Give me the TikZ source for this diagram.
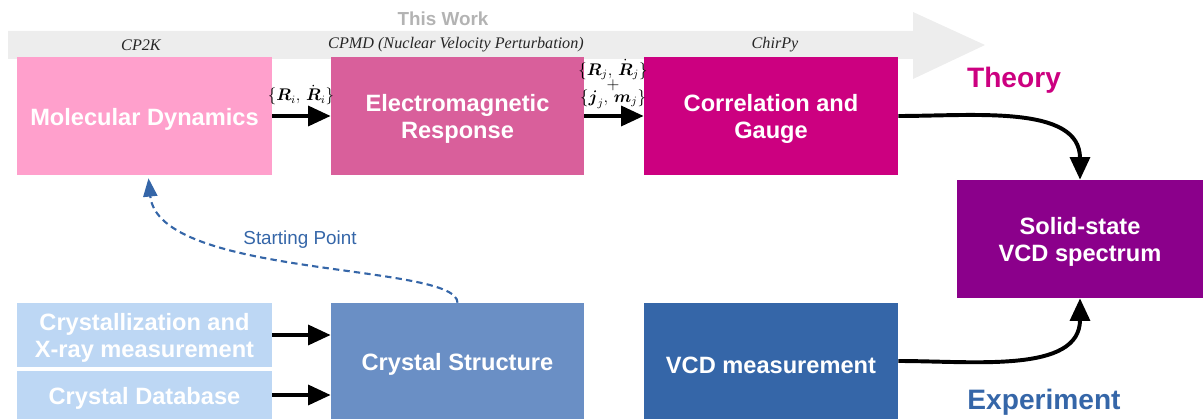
\documentclass[tikz,border=0pt]{standalone}
\usepackage{amsmath,amssymb}
\usepackage{fontspec}
\setsansfont{Liberation Sans}
\newfontfamily\toolfont{Liberation Serif}
\usepackage{tikz}
\usetikzlibrary{arrows.meta, positioning, calc}
\definecolor{MDPink}{HTML}{FFA0CC}
\definecolor{EMPink}{HTML}{D95F9B}
\definecolor{CGMagenta}{HTML}{CC0080}
\definecolor{SolidPurple}{HTML}{8B008B}
\definecolor{LightBlue}{HTML}{BDD7F4}
\definecolor{MidBlue}{HTML}{6A8FC5}
\definecolor{DeepBlue}{HTML}{3566A8}
\definecolor{BandGrey}{HTML}{EDEDED}
\definecolor{WorkGrey}{HTML}{B3B3B3}
\tikzset{
  % Box styles
  stagebox/.style={rectangle, inner sep=0pt, text=white, minimum width=6.375cm, minimum height=2.95cm, font=\sffamily\bfseries\fontsize{16.8}{19.5}\selectfont, align=center, execute at begin node={\rule{0pt}{17.5pt}}},
  twoline/.style={execute at begin node={\rule{0pt}{36pt}}},
  toolnote/.style={font=\toolfont\itshape\fontsize{11.5}{13}\selectfont, text=black!85},
  flownote/.style={font=\fontsize{12}{13}\selectfont, align=center, inner sep=0pt},
  % Arrow styles
  arrow/.style={-{Triangle[length=16pt,width=14pt]}, line width=2.8pt, black},
  dashedarrow/.style={-{Triangle[length=13pt,width=10pt]}, line width=1.5pt, DeepBlue, dash pattern=on 4.5pt off 3pt}
}
\begin{document}
\begin{tikzpicture}[x=0.025cm, y=-0.025cm]
  \useasboundingbox (0,0) rectangle (1203,419);

  % band "This Work"
  \fill[BandGrey] (8,31) -- (913,31) -- (913,12) -- (985,45) -- (913,79) -- (913,59) -- (8,59) -- cycle;
  \node[font=\sffamily\bfseries\fontsize{13.4}{15}\selectfont, text=WorkGrey] (work) at (443,19) {This Work};
  \node[toolnote] (cpk) at (141,45) {CP2K};
  \node[toolnote] (cpmd) at (456,45) {CPMD (Nuclear Velocity Perturbation)};
  \node[toolnote] (chirpy) at (775,45) {ChirPy};

  % theory row
  \node[stagebox, fill=MDPink] (md) at (144.5,116) {Molecular Dynamics};
  \node[stagebox, twoline, fill=EMPink, minimum width=6.325cm] (em) at (457.5,116) {Electromagnetic\\Response};
  \node[stagebox, twoline, fill=CGMagenta, minimum width=6.35cm] (cg) at (771,116) {Correlation and\\Gauge};
  \node[stagebox, twoline, fill=SolidPurple, minimum width=6.15cm] (vcd) at (1080,239) {Solid-state\\VCD spectrum};

  % experiment row
  \node[stagebox, twoline, fill=LightBlue, minimum height=1.6cm] (xray) at (144.5,335) {Crystallization and\\X-ray measurement};
  \node[stagebox, fill=LightBlue, minimum height=1.2cm] (db) at (144.5,395) {Crystal Database};
  \node[stagebox, fill=MidBlue, minimum width=6.325cm, minimum height=2.9cm] (cs) at (457.5,361) {Crystal Structure};
  \node[stagebox, fill=DeepBlue, minimum width=6.35cm, minimum height=2.9cm] (meas) at (771,361) {VCD measurement};

  \node[font=\sffamily\bfseries\fontsize{20}{22}\selectfont, text=CGMagenta] (theory) at (1014,80) {Theory};
  \node[font=\sffamily\bfseries\fontsize{20}{22}\selectfont, text=DeepBlue] (experiment) at (1044,402) {Experiment};

  % connectors
  \draw[arrow] (md.east) -- (em.west);
  \draw[arrow] (em.east) -- (cg.west);
  \draw[arrow] (cg.east) to[out=0, in=90] (vcd.north);
  \draw[arrow] (meas.east) to[out=0, in=-90] (vcd.south);
  \draw[arrow] (xray.east) -- (xray.east -| cs.west);
  \draw[arrow] (db.east) -- (db.east -| cs.west);
  \draw[dashedarrow] (cs.north) .. controls +(0,-40) and +(10,100) .. ($(md.south)+(4,3)$);

  \node[flownote] (ri) at (301,95) {$\{\boldsymbol{R}_i,\,\dot{\boldsymbol{R}}_i\}$};
  \node[flownote] (rj) at (613,84) {$\{\boldsymbol{R}_j,\,\dot{\boldsymbol{R}}_j\}$\\[-3pt]$+$\\[-4pt]$\{\boldsymbol{j}_j,\,\boldsymbol{m}_j\}$};
  \node[font=\sffamily\fontsize{13.4}{15}\selectfont, text=DeepBlue] (start) at (300,240) {Starting Point};
\end{tikzpicture}
\end{document}
